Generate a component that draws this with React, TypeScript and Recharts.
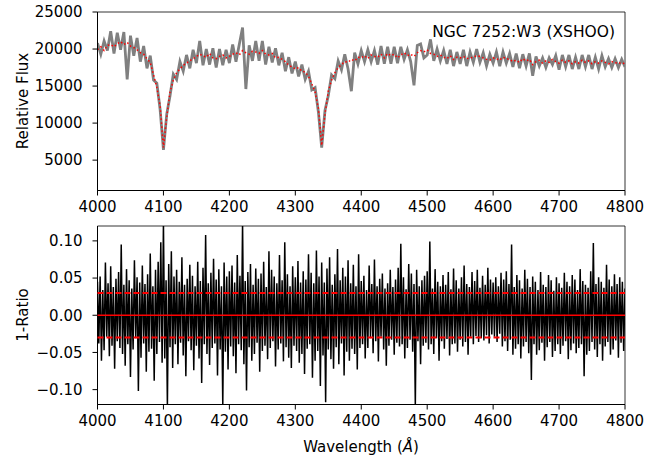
import React from 'react';
import { ComposedChart, Line, XAxis, YAxis, ReferenceArea } from 'recharts';

// wavelength grids (Angstrom)
const FLUX_START = 4000;
const FLUX_STEP = 5;
const RES_START = 4000;
const RES_STEP = 2;

const xTicks = [4000, 4100, 4200, 4300, 4400, 4500, 4600, 4700, 4800];
const fluxTicks = [5000, 10000, 15000, 20000, 25000];
const ratioTicks = [-0.1, -0.05, 0, 0.05, 0.1];

// zero level and +/- 3 per cent band in the residual panel
const zeroLevel = 0;
const bandLevel = 0.03;

// observed spectrum (grey)
const observed = [
  20800, 19300, 21100, 19800, 22400, 19400, 22200, 19900, 22300, 15900,
  21800, 19100, 21500, 18300, 20400, 17400, 19100, 15800, 15400, 11800,
  6400, 11200, 13700, 16600, 15900, 18300, 17000, 19200, 17400, 19900,
  18100, 21100, 17800, 20000, 17900, 20100, 17500, 20000, 17800, 19900,
  18100, 20600, 18300, 20600, 22900, 14600, 20500, 18400, 21100, 18400,
  21100, 17900, 20300, 18200, 20100, 17800, 19500, 17000, 18900, 16700,
  18300, 16300, 17900, 15900, 17000, 14500, 14800, 11500, 6700, 11700,
  13700, 16500, 16000, 18400, 17200, 19300, 17300, 14300, 19500, 18000,
  19800, 18300, 19900, 18300, 19800, 17900, 20400, 18000, 20300, 18000,
  20300, 18100, 20300, 18600, 19900, 18300, 15100, 20500, 20700, 18800,
  19200, 21300, 18400, 20000, 18400, 19800, 18000, 19900, 17700, 19600,
  18000, 19900, 17700, 19600, 18200, 20000, 18200, 19500, 17700, 19300,
  18100, 19600, 17700, 19600, 18100, 19400, 17600, 19400, 17400, 19300,
  17700, 19400, 16400, 19000, 17700, 18800, 17500, 18800, 17900, 19100,
  17200, 19200, 17600, 19200, 17300, 18900, 17300, 19200, 17600, 19200,
  17300, 18900, 17300, 19100, 17600, 18700, 17500, 18700, 17500, 18600,
  17600,
];

// best-fit model (red dotted)
const model = [
  19900, 20300, 19800, 20500, 20600, 20300, 20700, 21000, 20600, 20900,
  20400, 20200, 19900, 19500, 19300, 18700, 18200, 16500, 14800, 12300,
  6700, 10800, 14200, 15800, 16800, 17300, 17800, 18100, 18400, 18700,
  19000, 19300, 19100, 18900, 19400, 18800, 18700, 19000, 19200, 18800,
  19000, 19300, 19500, 19200, 19800, 19500, 19300, 19700, 19600, 19400,
  19800, 19300, 19200, 19400, 18800, 18900, 18600, 18300, 17800, 17600,
  17300, 17500, 17000, 16900, 16300, 15300, 14200, 12000, 7000, 11200,
  14300, 15800, 16800, 17500, 17900, 18300, 18200, 18600, 18400, 18900,
  18800, 19100, 18700, 19200, 19000, 18900, 19300, 18800, 19400, 19100,
  19300, 18800, 19200, 19500, 19100, 19300, 19000, 19500, 19800, 19600,
  19900, 19400, 19300, 19000, 19200, 18900, 18700, 19100, 18600, 18900,
  18800, 19000, 18700, 18800, 18900, 19100, 19000, 18800, 18600, 18500,
  18800, 18700, 18500, 18900, 18700, 18600, 18300, 18500, 18200, 18700,
  18400, 18600, 17900, 18300, 18500, 18100, 18400, 18200, 18600, 18300,
  18100, 18500, 18200, 18400, 18000, 18300, 18100, 18500, 18200, 18400,
  18000, 18300, 18100, 18400, 18200, 18000, 18300, 18100, 18200, 18000,
  18100,
];

// 1 - observed/model
const residual = [
  0.045, -0.038, 0.052, -0.061, 0.034, -0.047, 0.071, -0.029, 0.043, -0.055,
  0.066, -0.041, 0.038, -0.072, 0.049, -0.035, 0.058, -0.044, 0.095, -0.052,
  0.041, -0.068, 0.062, -0.039, 0.047, -0.083, 0.036, -0.046, 0.074, -0.031,
  0.051, -0.102, 0.044, -0.057, 0.067, -0.038, 0.042, -0.076, 0.055, -0.049,
  0.083, -0.045, 0.039, -0.088, 0.061, -0.052, 0.072, -0.036, 0.098, -0.064,
  0.125, -0.058, 0.047, -0.122, 0.069, -0.043, 0.086, -0.071, 0.052, -0.039,
  0.061, -0.066, 0.045, -0.037, 0.078, -0.054, 0.041, -0.082, 0.049, -0.035,
  0.068, -0.047, 0.053, -0.074, 0.039, -0.041, 0.072, -0.058, 0.046, -0.091,
  0.064, -0.039, 0.108, -0.052, 0.043, -0.067, 0.057, -0.044, 0.076, -0.038,
  0.048, -0.081, 0.062, -0.046, 0.039, -0.122, 0.071, -0.049, 0.052, -0.073,
  0.059, -0.042, 0.067, -0.055, 0.044, -0.078, 0.081, -0.039, 0.053, -0.047,
  0.125, -0.066, 0.046, -0.101, 0.058, -0.043, 0.069, -0.061, 0.041, -0.052,
  0.063, -0.037, 0.049, -0.076, 0.056, -0.048, 0.072, -0.041, 0.038, -0.059,
  0.086, -0.044, 0.061, -0.035, 0.052, -0.069, 0.043, -0.046, 0.081, -0.038,
  0.047, -0.062, 0.098, -0.043, 0.055, -0.057, 0.039, -0.071, 0.066, -0.041,
  0.051, -0.048, 0.073, -0.064, 0.044, -0.052, 0.059, -0.079, 0.048, -0.045,
  0.082, -0.039, 0.057, -0.084, 0.043, -0.061, 0.087, -0.048, 0.052, -0.095,
  0.071, -0.054, 0.044, -0.117, 0.063, -0.046, 0.078, -0.059, 0.041, -0.072,
  0.055, -0.043, 0.089, -0.066, 0.047, -0.038, 0.064, -0.081, 0.052, -0.049,
  0.074, -0.061, 0.043, -0.045, 0.068, -0.052, 0.039, -0.073, 0.082, -0.044,
  0.046, -0.039, 0.053, -0.058, 0.034, -0.044, 0.067, -0.031, 0.042, -0.051,
  0.075, -0.035, 0.039, -0.062, 0.049, -0.029, 0.056, -0.046, 0.036, -0.068,
  0.043, -0.041, 0.061, -0.033, 0.038, -0.053, 0.048, -0.037, 0.064, -0.042,
  0.096, -0.039, 0.051, -0.058, 0.035, -0.044, 0.069, -0.033, 0.056, -0.049,
  0.042, -0.122, 0.061, -0.035, 0.039, -0.066, 0.047, -0.041, 0.053, -0.037,
  0.059, -0.046, 0.099, -0.039, 0.036, -0.052, 0.062, -0.031, 0.045, -0.061,
  0.039, -0.035, 0.054, -0.045, 0.041, -0.032, 0.058, -0.054, 0.035, -0.039,
  0.063, -0.038, 0.047, -0.049, 0.036, -0.033, 0.051, -0.042, 0.067, -0.036,
  0.042, -0.053, 0.038, -0.029, 0.058, -0.039, 0.046, -0.028, 0.061, -0.036,
  0.037, -0.031, 0.053, -0.034, 0.041, -0.027, 0.064, -0.038, 0.048, -0.026,
  0.044, -0.029, 0.051, -0.036, 0.039, -0.025, 0.057, -0.042, 0.048, -0.035,
  0.059, -0.048, 0.042, -0.033, 0.095, -0.053, 0.038, -0.045, 0.054, -0.039,
  0.047, -0.058, 0.036, -0.042, 0.061, -0.036, 0.049, -0.051, 0.038, -0.087,
  0.052, -0.039, 0.045, -0.053, 0.034, -0.047, 0.058, -0.037, 0.041, -0.061,
  0.038, -0.043, 0.054, -0.036, 0.047, -0.056, 0.033, -0.048, 0.051, -0.039,
  0.043, -0.052, 0.037, -0.041, 0.057, -0.035, 0.045, -0.059, 0.039, -0.047,
  0.054, -0.038, 0.048, -0.051, 0.034, -0.044, 0.062, -0.039, 0.046, -0.082,
  0.041, -0.053, 0.037, -0.048, 0.059, -0.036, 0.097, -0.046, 0.042, -0.056,
  0.051, -0.039, 0.045, -0.061, 0.037, -0.042, 0.068, -0.036, 0.048, -0.053,
  0.039, -0.046, 0.055, -0.034, 0.042, -0.057, 0.051, -0.037, 0.045, -0.048,
  0.036,
];

const fluxData = observed.map((v, i) => ({ wl: FLUX_START + i * FLUX_STEP, obs: v, model: model[i] }));
const resData = residual.map((v, i) => ({ wl: RES_START + i * RES_STEP, res: v }));
const levelData = [4000, 4800].map((wl) => ({ wl, zero: zeroLevel, hi: bandLevel, lo: -bandLevel }));

const FONT = 'DejaVu Sans';
const tickStyle = { fontSize: 15, fill: '#000', fontFamily: FONT };
const fmtRatio = (v: number) => v.toFixed(2).replace('-', '\u2212');
const layer: React.CSSProperties = { position: 'absolute', left: 0, top: 0 };

export default function App() {
  return (
    <div style={{ position: 'absolute', left: 0, top: 0, width: 659, height: 460, background: '#fff' }}>
      <div style={layer}>
        <ComposedChart width={659} height={215.5} data={fluxData} margin={{ top: 12, right: 34, bottom: 0, left: 0 }}>
          <XAxis dataKey="wl" type="number" domain={[4000, 4800]} ticks={xTicks} allowDataOverflow
            height={25} tickSize={5} tickMargin={6} tick={tickStyle} stroke="#000" tickLine={{ stroke: '#000' }} />
          <YAxis type="number" domain={[900, 25000]} ticks={fluxTicks} allowDataOverflow
            width={97.5} tickSize={5} tickMargin={10} tick={tickStyle} stroke="#000" tickLine={{ stroke: '#000' }} />
          <Line dataKey="obs" type="linear" stroke="#808080" strokeWidth={2.8} dot={false} isAnimationActive={false} />
          <Line dataKey="model" type="linear" stroke="#ff0000" strokeWidth={1.5} strokeDasharray="1.5 2.5" dot={false} isAnimationActive={false} />
          <ReferenceArea x1={4000} x2={4800} y1={900} y2={25000} fill="none" stroke="#000" strokeWidth={0.8} />
        </ComposedChart>
      </div>
      <div style={layer}>
        <ComposedChart width={659} height={460} data={resData} margin={{ top: 226, right: 34, bottom: 30.5, left: 0 }}>
          <XAxis dataKey="wl" type="number" domain={[4000, 4800]} ticks={xTicks} allowDataOverflow
            height={25} tickSize={5} tickMargin={6} tick={tickStyle} stroke="#000" tickLine={{ stroke: '#000' }} />
          <YAxis type="number" domain={[-0.12, 0.12]} ticks={ratioTicks} allowDataOverflow tickFormatter={fmtRatio}
            width={97.5} tickSize={5} tickMargin={10} tick={tickStyle} stroke="#000" tickLine={{ stroke: '#000' }} />
          <Line dataKey="res" type="linear" stroke="#000" strokeWidth={1.5} dot={false} isAnimationActive={false} />
          <ReferenceArea x1={4000} x2={4800} y1={-0.12} y2={0.12} fill="none" stroke="#000" strokeWidth={0.8} />
        </ComposedChart>
      </div>
      {/* red levels drawn over the residuals */}
      <div style={layer}>
        <ComposedChart width={659} height={460} data={levelData} margin={{ top: 226, right: 34, bottom: 55.5, left: 97.5 }}>
          <XAxis dataKey="wl" type="number" domain={[4000, 4800]} hide />
          <YAxis type="number" domain={[-0.12, 0.12]} hide />
          <Line dataKey="zero" type="linear" stroke="#ff0000" strokeWidth={1.6} dot={false} isAnimationActive={false} />
          <Line dataKey="hi" type="linear" stroke="#ff0000" strokeWidth={2} strokeDasharray="6 3" dot={false} isAnimationActive={false} />
          <Line dataKey="lo" type="linear" stroke="#ff0000" strokeWidth={2} strokeDasharray="6 3" dot={false} isAnimationActive={false} />
        </ComposedChart>
      </div>
      <svg width={659} height={460} style={{ ...layer, pointerEvents: 'none' }} fontFamily={FONT} fill="#000">
        <text x={615} y={37} fontSize={15.5} textAnchor="end">NGC 7252:W3 (XSHOO)</text>
        <text transform="translate(23,101) rotate(-90)" fontSize={15} textAnchor="middle" dominantBaseline="central">Relative Flux</text>
        <text transform="translate(23,315) rotate(-90)" fontSize={15} textAnchor="middle" dominantBaseline="central">1-Ratio</text>
        <text x={361} y={452} fontSize={15} textAnchor="middle">
          Wavelength (<tspan fontStyle="italic">Å</tspan>)
        </text>
      </svg>
    </div>
  );
}
